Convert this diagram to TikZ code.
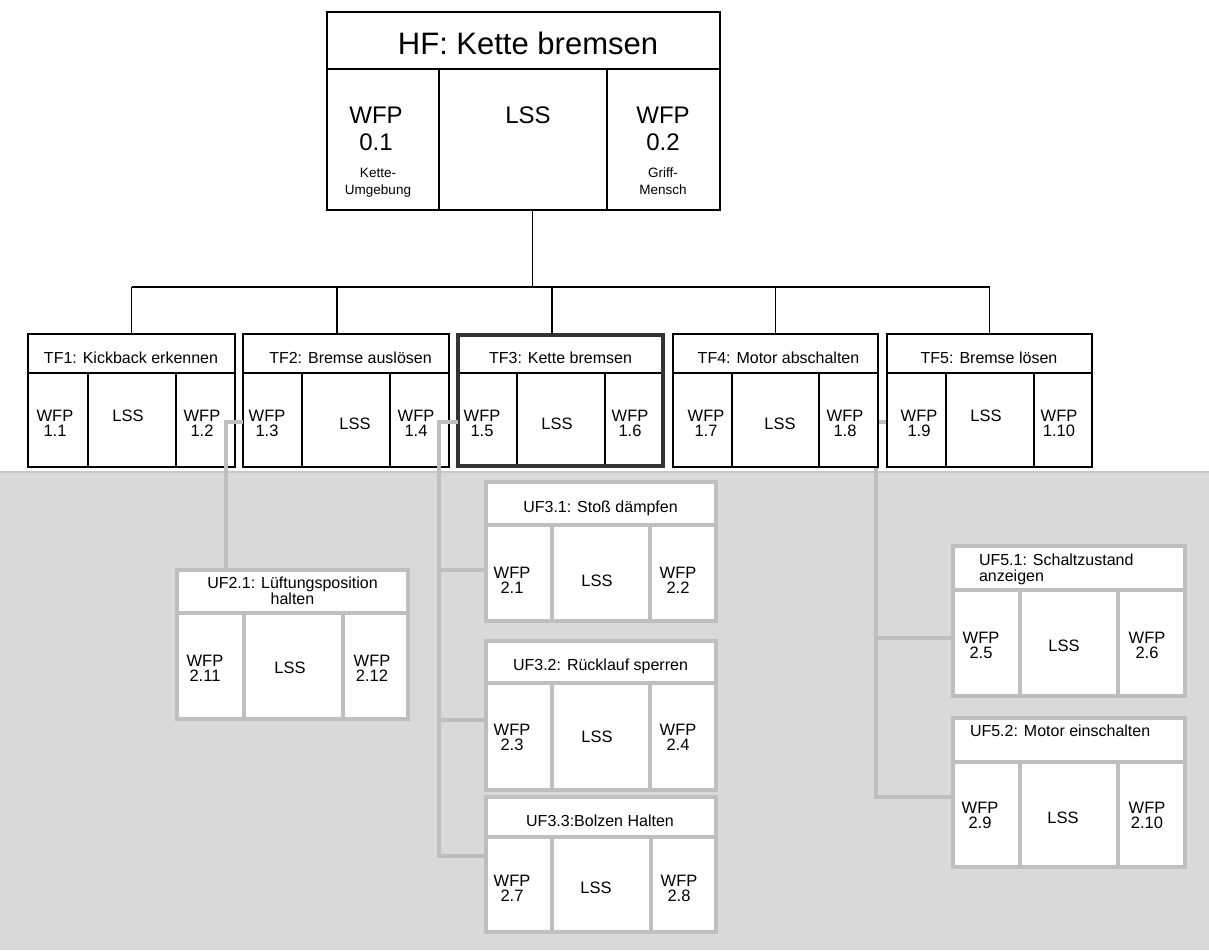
\documentclass[tikz,border=0pt]{standalone}
\usepackage{fontspec}
\setmainfont{Liberation Sans}
\usetikzlibrary{backgrounds}
\definecolor{zone}{HTML}{D9D9D9}
\definecolor{zoneedge}{HTML}{C6C6C6}
\definecolor{ufline}{HTML}{BFBFBF}
\definecolor{tfdark}{HTML}{333333}

% Box with a title row and three cells below it:
% #1 name, #2 style, #3 left, #4 first divider, #5 second divider, #6 right,
% #7 top, #8 title row bottom, #9 bottom
\newcommand\mkbox[9]{%
  \node[#2,minimum width={#6-#3},minimum height={#8-#7}] (#1-t) at ({(#3+#6)/2},{(#7+#8)/2}) {};
  \node[#2,minimum width={#4-#3},minimum height={#9-#8}] (#1-a) at ({(#3+#4)/2},{(#8+#9)/2}) {};
  \node[#2,minimum width={#5-#4},minimum height={#9-#8}] (#1-b) at ({(#4+#5)/2},{(#8+#9)/2}) {};
  \node[#2,minimum width={#6-#5},minimum height={#9-#8}] (#1-c) at ({(#5+#6)/2},{(#8+#9)/2}) {};
}

\begin{document}
\begin{tikzpicture}[x=1pt,y=-1pt,
  cellK/.style={draw=black,line width=1.3pt,fill=white,inner sep=0pt,outer sep=0pt},
  cellG/.style={draw=ufline,line width=3.5pt,fill=white,inner sep=0pt,outer sep=0pt},
  tree/.style={draw=black,line width=1.3pt},
  link/.style={draw=ufline,line width=3.2pt},
  txt/.style={inner sep=0pt,outer sep=0pt,align=center,font=\fontsize{16}{15.5}\selectfont},
  ttl/.style={txt,anchor=base},
  cel/.style={txt,anchor=north,font=\fontsize{16.5}{15.5}\selectfont}]

\useasboundingbox (0,0) rectangle (1209,950);

% page and shaded zone of the sub-functions
\begin{scope}[on background layer]
  \fill[white] (0,0) rectangle (1209,950);
  \fill[zone] (0,472) rectangle (1209,950);
  \draw[zoneedge,line width=1.5pt] (0,472) -- (1209,472);
\end{scope}

% main function
\mkbox{hf}{cellK}{327}{439}{607}{720}{12}{69}{210}
\node[txt,font=\fontsize{31}{31}\selectfont,anchor=base] (hf-title) at (528,55) {HF: Kette bremsen};
\node[txt,font=\fontsize{24}{27}\selectfont,anchor=north] (hf-wl) at (376,107) {WFP\\0.1};
\node[txt,font=\fontsize{24}{27}\selectfont,anchor=north] (hf-lss) at (528,107) {LSS};
\node[txt,font=\fontsize{24}{27}\selectfont,anchor=north] (hf-wr) at (663,107) {WFP\\0.2};
\node[txt,font=\fontsize{13.5}{17}\selectfont,anchor=north] (hf-nl) at (378,168) {Kette-\\Umgebung};
\node[txt,font=\fontsize{13.5}{17}\selectfont,anchor=north] (hf-nr) at (663,168) {Griff-\\Mensch};

% TF boxes
\mkbox{tf1}{cellK}{28}{88}{176}{235}{334}{373}{467}
\mkbox{tf2}{cellK}{243}{302}{390}{449}{334}{373}{467}
\mkbox{tf3}{cellK}{458}{517}{605}{663}{335}{373}{466}
\mkbox{tf4}{cellK}{673}{732}{819}{878}{334}{373}{467}
\mkbox{tf5}{cellK}{887}{946}{1034}{1092}{334}{373}{467}
\node[draw=tfdark,line width=3.5pt,inner sep=0pt,outer sep=0pt,
      minimum width=205,minimum height=131] (tf3-frame) at (560.5,400.5) {};

% tree from the main function to the five TF boxes
\coordinate (bus) at (0,287);
\draw[tree] ([xshift=9.5pt]hf-b.south) -- ([xshift=9.5pt]hf-b.south |- bus);
\draw[tree] (tf1-t.north |- bus) -- (tf5-t.north |- bus);
\draw[tree] (tf1-t.north |- bus) -- (tf1-t.north);
\draw[tree] ([xshift=-9pt]tf2-t.north |- bus) -- ([xshift=-9pt]tf2-t.north);
\draw[tree] ([xshift=-8.5pt]tf3-t.north |- bus) -- ([xshift=-8.5pt]tf3-t.north);
\draw[tree] (tf4-t.north |- bus) -- (tf4-t.north);
\draw[tree] (tf5-t.north |- bus) -- (tf5-t.north);

% TF texts
\node[ttl] (tf1-title) at (131,363.5) {TF1: Kickback erkennen};
\node[cel] (tf1-wl) at (55,410) {WFP\\1.1};
\node[cel] (tf1-lss) at (128,410) {LSS};
\node[cel] (tf1-wr) at (202,410) {WFP\\1.2};

\node[ttl] (tf2-title) at (350.5,363.5) {TF2: Bremse auslösen};
\node[cel] (tf2-wl) at (267,410) {WFP\\1.3};
\node[cel] (tf2-lss) at (355,418) {LSS};
\node[cel] (tf2-wr) at (416,410) {WFP\\1.4};

\node[ttl] (tf3-title) at (560.5,363.5) {TF3: Kette bremsen};
\node[cel] (tf3-wl) at (482,410) {WFP\\1.5};
\node[cel] (tf3-lss) at (557,418) {LSS};
\node[cel] (tf3-wr) at (630,410) {WFP\\1.6};

\node[ttl] (tf4-title) at (778.5,363.5) {TF4: Motor abschalten};
\node[cel] (tf4-wl) at (706,410) {WFP\\1.7};
\node[cel] (tf4-lss) at (780,418) {LSS};
\node[cel] (tf4-wr) at (845,410) {WFP\\1.8};

\node[ttl] (tf5-title) at (989,363.5) {TF5: Bremse lösen};
\node[cel] (tf5-wl) at (919,410) {WFP\\1.9};
\node[cel] (tf5-lss) at (986,410) {LSS};
\node[cel] (tf5-wr) at (1059,410) {WFP\\1.10};

% UF boxes
\mkbox{uf2}{cellG}{177}{244}{343}{408}{570}{613}{719}
\mkbox{uf31}{cellG}{486}{552}{650}{716}{482}{525}{621}
\mkbox{uf32}{cellG}{486}{552}{650}{716}{641}{683}{790}
\mkbox{uf33}{cellG}{486}{552}{651}{716}{797}{837}{932}
\mkbox{uf51}{cellG}{953}{1020}{1118}{1185}{546}{590}{696}
\mkbox{uf52}{cellG}{953}{1020}{1118}{1185}{718}{762}{867}

% link TF5 -> UF5.x, kept behind the boxes (it runs under TF4's right edge)
\coordinate (j3) at (876,422);
\coordinate (b51) at (876,638);
\coordinate (b52) at (876,797);
\begin{scope}[on background layer]
  \draw[link] (tf5-a.west |- j3) -- (j3) -- (b52) -- (uf52-a.west |- b52);
  \draw[link] (b51) -- (uf51-a.west |- b51);
\end{scope}

% links TF2 -> UF2.1 and TF3 -> UF3.x, drawn over the boxes
\coordinate (j1) at (226,422);
\draw[link] (tf2-a.west |- j1) -- (j1) -- (j1 |- uf2-t.north);

\coordinate (j2) at (439,422);
\coordinate (b31) at (439,570);
\coordinate (b32) at (439,720);
\coordinate (b33) at (439,856);
\draw[link] (tf3-a.west |- j2) -- (j2) -- (b33) -- (uf33-a.west |- b33);
\draw[link] (b31) -- (uf31-a.west |- b31);
\draw[link] (b32) -- (uf32-a.west |- b32);

% UF texts
\node[txt,anchor=north] (uf2-title) at (292.5,577) {UF2.1: Lüftungsposition\\halten};
\node[cel] (uf2-wl) at (205,655) {WFP\\2.11};
\node[cel] (uf2-lss) at (290,662) {LSS};
\node[cel] (uf2-wr) at (372,655) {WFP\\2.12};

\node[ttl] (uf31-title) at (600.5,512.5) {UF3.1: Stoß dämpfen};
\node[cel] (uf31-wl) at (512,567) {WFP\\2.1};
\node[cel] (uf31-lss) at (597,575) {LSS};
\node[cel] (uf31-wr) at (678,567) {WFP\\2.2};

\node[ttl] (uf32-title) at (600.5,670.5) {UF3.2: Rücklauf sperren};
\node[cel] (uf32-wl) at (512,724) {WFP\\2.3};
\node[cel] (uf32-lss) at (597,731) {LSS};
\node[cel] (uf32-wr) at (678,724) {WFP\\2.4};

\node[ttl] (uf33-title) at (600,826.5) {UF3.3:Bolzen Halten};
\node[cel] (uf33-wl) at (512,875) {WFP\\2.7};
\node[cel] (uf33-lss) at (596,882) {LSS};
\node[cel] (uf33-wr) at (679,875) {WFP\\2.8};

\node[txt,align=left,anchor=north west,font=\fontsize{16}{16.5}\selectfont] (uf51-title) at (979,553.5) {UF5.1: Schaltzustand\\anzeigen};
\node[cel] (uf51-wl) at (981,632) {WFP\\2.5};
\node[cel] (uf51-lss) at (1064,640) {LSS};
\node[cel] (uf51-wr) at (1147,632) {WFP\\2.6};

\node[txt,anchor=base west] (uf52-title) at (970,736) {UF5.2: Motor einschalten};
\node[cel] (uf52-wl) at (980,802) {WFP\\2.9};
\node[cel] (uf52-lss) at (1063,812) {LSS};
\node[cel] (uf52-wr) at (1147,802) {WFP\\2.10};

\end{tikzpicture}
\end{document}
